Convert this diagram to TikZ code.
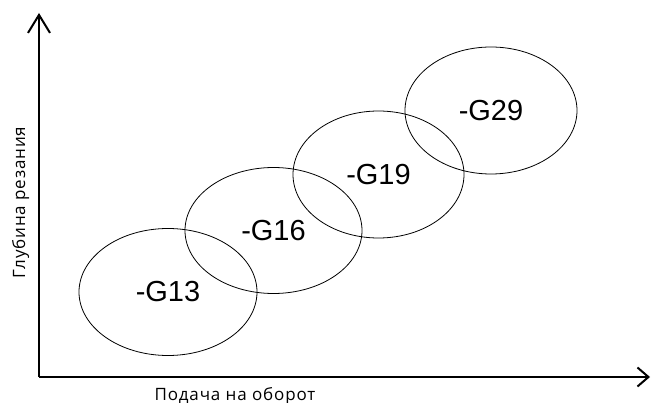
\documentclass[tikz,border=0pt]{standalone}
\usepackage{fontspec}
\setmainfont{Liberation Sans}
\newfontfamily\axisfont[LetterSpace=5]{Open Sans}
\usetikzlibrary{shapes.geometric, arrows.meta, positioning}

\begin{document}
\begin{tikzpicture}[x=1pt, y=-1pt,
		zone/.style={draw, ellipse, line width=0.8pt, inner sep=0pt, font=\fontsize{29}{29}\selectfont},
		axis/.style={line width=2pt},
		axislabel/.style={font=\axisfont\fontsize{17}{17}\selectfont, inner sep=0pt}]
	\useasboundingbox (0,0) rectangle (651,403);
	% axes
	\coordinate (O) at (39,377);
	\coordinate (ytop) at (39,13);
	\coordinate (xend) at (650,377);
	\draw [axis, -{Straight Barb[length=18pt, width=22pt, line width=2pt]}] (O) -- (ytop);
	\draw [axis, -{Straight Barb[length=11pt, width=19pt, line width=2pt]}] (O) -- (xend);
	\node [axislabel, rotate=90, anchor=base] (ylab) at (25,202.5) {Глубина резания};
	\node [axislabel, anchor=base] (xlab) at (235,400) {Подача на оборот};
	% zones
	\node [zone, minimum width=178pt, minimum height=127pt] (g13) at (168,292) {-G13};
	\node [zone, minimum width=177pt, minimum height=126pt] (g16) at (273.5,230.5) {-G16};
	\node [zone, minimum width=171pt, minimum height=127pt] (g19) at (378.5,174.5) {-G19};
	\node [zone, minimum width=172pt, minimum height=127pt] (g29) at (491,110.5) {-G29};
\end{tikzpicture}
\end{document}
